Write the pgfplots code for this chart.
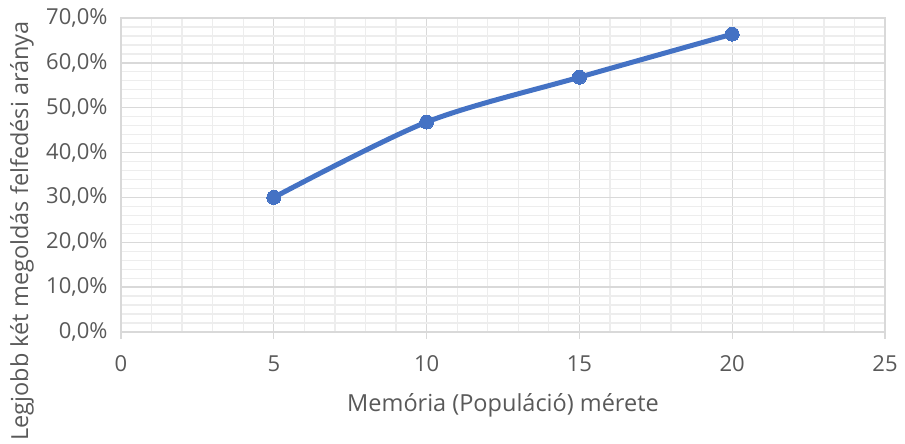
\documentclass[border=0pt]{standalone}
\usepackage{pgfplots}
\pgfplotsset{compat=1.18}
\usepackage{fontspec}
\setmainfont{Open Sans}
\definecolor{txtgray}{HTML}{595959}
\definecolor{majgrid}{HTML}{D9D9D9}
\definecolor{mingrid}{HTML}{EDEDED}
\definecolor{serblue}{HTML}{4472C4}
\begin{document}
\begin{tikzpicture}
\begin{axis}[
  scale only axis,
  width=764pt, height=314pt,
  at={(0,0)}, anchor=south west,
  xmin=0, xmax=25, ymin=0, ymax=70,
  xtick={0,5,...,25}, ytick={0,10,...,70},
  yticklabels={{0,0\%},{10,0\%},{20,0\%},{30,0\%},{40,0\%},{50,0\%},{60,0\%},{70,0\%}},
  minor x tick num=4, minor y tick num=4,
  grid=both,
  major grid style={majgrid, line width=1.3pt},
  minor grid style={mingrid, line width=1.3pt},
  axis line style={majgrid, line width=1.3pt},
  xtick pos=bottom, xtick align=outside,
  major tick length=7pt,
  x tick style={majgrid, line width=1.3pt},
  y tick style={draw=none},
  minor tick style={draw=none},
  /pgf/number format/assume math mode=true,
  ticklabel style={font=\fontsize{22}{26}\selectfont, text=txtgray},
  xticklabel style={yshift=-13pt},
  yticklabel style={xshift=-10pt},
  xlabel={Memória (Populáció) mérete},
  ylabel={Legjobb két megoldás felfedési aránya},
  label style={font=\fontsize{23.5}{28}\selectfont, text=txtgray},
  xlabel style={at={(axis description cs:0.5,-0.232)}, anchor=center},
  ylabel style={at={(axis description cs:-0.1296,0.322)}, anchor=center, rotate=0},
]
\addplot[serblue, line width=5pt, smooth, tension=0.5,
  mark=*, mark size=7pt, mark options={fill=serblue, draw=serblue, line width=0pt}]
  coordinates {(5,30.0) (10,46.8) (15,56.8) (20,66.4)};
\end{axis}
\path[use as bounding box] (-121pt,-109pt) rectangle (784pt,332pt);
\end{tikzpicture}
\end{document}
